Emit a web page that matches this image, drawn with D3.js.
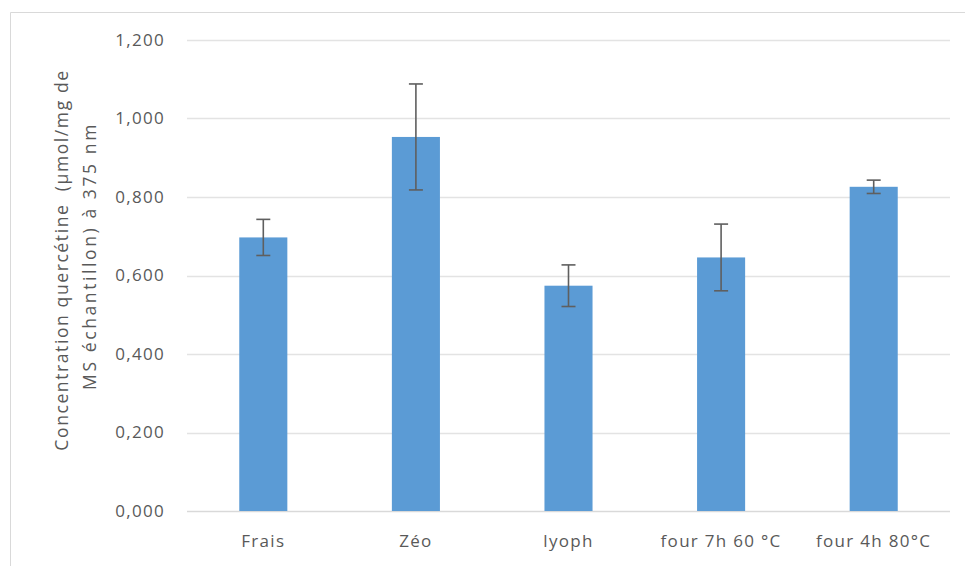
<!DOCTYPE html>
<html><head><meta charset="utf-8">
<script src="https://cdn.jsdelivr.net/npm/d3@7"></script>
<style>body{margin:0;background:#fff;}svg{display:block;}text{font-family:"Open Sans",sans-serif;fill:#595959;}</style>
</head><body><svg id="c" width="965" height="566"></svg>
<script>
const categories = ["Frais","Zéo","lyoph","four 7h 60 °C","four 4h 80°C"];
const values = [0.697, 0.953, 0.574, 0.646, 0.826];
const errors = [0.046, 0.135, 0.053, 0.085, 0.017];
const yTicks = [0, 0.2, 0.4, 0.6, 0.8, 1.0, 1.2];
const yLabelLines = ["Concentration quercétine  (µmol/mg de", "MS échantillon) à 375 nm"];

const svg = d3.select("#c");
const m = {left:187, right:950, top:40, bottom:511};
const x = d3.scaleBand().domain(categories).range([m.left, m.right]).paddingInner(0.685).paddingOuter(0.3425);
const y = d3.scaleLinear().domain([0,1.2]).range([m.bottom, m.top]);

// border
svg.append("path").attr("d","M10.5,566 V12.5 H965").attr("fill","none").attr("stroke","#d9d9d9").attr("stroke-width",1);

// gridlines
svg.append("g").selectAll("line").data(yTicks).join("line")
  .attr("x1",m.left).attr("x2",m.right)
  .attr("y1",d=>Math.round(y(d))+0.5).attr("y2",d=>Math.round(y(d))+0.5)
  .attr("stroke",d=>d===0?"#d9d9d9":"#e3e3e3").attr("stroke-width",1.3);

const yAxis = d3.axisLeft(y).tickValues(yTicks).tickSize(0).tickPadding(22).tickFormat(d=>{const s=d.toFixed(3).split(".");return s[0]+","+s[1];});
const ya = svg.append("g").attr("transform",`translate(${m.left},0)`).call(yAxis);
ya.select(".domain").remove();
ya.selectAll("text").style("font-size","17px").style("letter-spacing","1.3px").attr("fill","#595959").style("font-family","'Open Sans',sans-serif");

// bars
svg.append("g").selectAll("rect").data(categories).join("rect")
  .attr("x",d=>x(d)).attr("width",x.bandwidth())
  .attr("y",(d,i)=>y(values[i])).attr("height",(d,i)=>y(0)-y(values[i]))
  .attr("fill","#5b9bd5");

// error bars
const eg = svg.append("g").attr("stroke","#5f5f5f").attr("stroke-width",1.6);
categories.forEach((c,i)=>{
  const cx = x(c)+x.bandwidth()/2;
  const y1 = y(values[i]+errors[i]), y2 = y(values[i]-errors[i]);
  eg.append("line").attr("x1",cx).attr("x2",cx).attr("y1",y1).attr("y2",y2);
  eg.append("line").attr("x1",cx-7).attr("x2",cx+7).attr("y1",y1).attr("y2",y1);
  eg.append("line").attr("x1",cx-7).attr("x2",cx+7).attr("y1",y2).attr("y2",y2);
});

// x labels
const xAxis = d3.axisBottom(x).tickSize(0).tickPadding(24);
const xa = svg.append("g").attr("transform",`translate(0,${m.bottom})`).call(xAxis);
xa.select(".domain").remove();
xa.selectAll("text").style("font-size","17px").style("letter-spacing","1.3px").attr("fill","#595959").style("font-family","'Open Sans',sans-serif");

// y label
const yl = svg.append("text").attr("transform","translate(77,260) rotate(-90)").attr("text-anchor","middle")
  .style("font-size","17.5px").style("letter-spacing","1.6px");
yLabelLines.forEach((t,i)=>yl.append("tspan").attr("x",i===0?0:4).attr("dy",i===0?"-0.5em":"1.6em")
  .style("letter-spacing",i===0?"1.6px":"2.6px").attr("xml:space","preserve").text(t));
</script></body></html>
